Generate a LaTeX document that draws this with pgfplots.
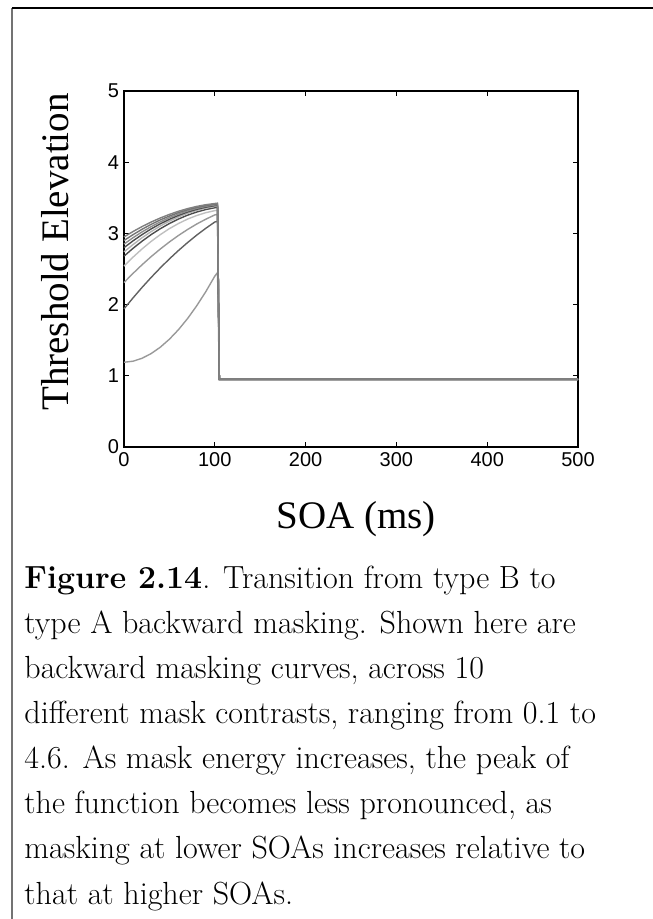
\documentclass[border=0pt]{standalone}
\usepackage{fontspec}
\usepackage{pgfplots}
\usepackage{pgfplotstable}
\pgfplotsset{compat=1.18}
\newfontfamily\labelfont{Liberation Serif}
\newfontfamily\tickfont{Liberation Sans}

% threshold elevation vs SOA for the different mask contrasts
\pgfplotstableread{
x    c1    c2    c3    c4    c5    c6    c7    c8    c9    c10
0    2.950 2.900 2.850 2.800 2.740 2.680 2.540 2.310 1.940 1.190
10   3.027 2.983 2.940 2.896 2.844 2.791 2.667 2.439 2.095 1.205
20   3.097 3.059 3.022 2.984 2.940 2.892 2.783 2.561 2.243 1.247
30   3.160 3.128 3.096 3.064 3.026 2.984 2.889 2.675 2.383 1.313
40   3.217 3.190 3.162 3.135 3.104 3.066 2.983 2.781 2.516 1.402
50   3.267 3.244 3.221 3.198 3.172 3.139 3.067 2.880 2.642 1.514
60   3.311 3.292 3.272 3.253 3.232 3.202 3.139 2.971 2.760 1.648
70   3.348 3.332 3.316 3.300 3.282 3.256 3.201 3.055 2.871 1.804
80   3.379 3.365 3.352 3.338 3.324 3.300 3.251 3.131 2.975 1.982
90   3.403 3.391 3.380 3.368 3.356 3.335 3.291 3.199 3.071 2.180
100  3.420 3.410 3.400 3.390 3.380 3.360 3.320 3.260 3.160 2.400
103  3.425 3.415 3.405 3.395 3.385 3.366 3.327 3.268 3.171 2.450
105  0.950 0.950 0.950 0.950 0.950 0.950 0.950 0.950 0.950 0.950
500  0.950 0.950 0.950 0.950 0.950 0.950 0.950 0.950 0.950 0.950
}\masking

\begin{document}
\begin{tikzpicture}
\useasboundingbox (0,0) rectangle (326pt,-459.5pt);
% page frame
\draw[black!55, line width=0.6pt] (6pt,-4pt) -- (6pt,-460pt);
\draw[black, line width=0.6pt] (6pt,-4pt) -- (327pt,-4pt);

\begin{axis}[
  at={(62pt,-223.5pt)}, anchor=south west,
  width=227pt, height=178pt, scale only axis,
  xmin=0, xmax=500, ymin=0, ymax=5,
  xtick={0,100,...,500}, ytick={0,1,...,5},
  tick align=inside, major tick length=2.6pt,
  axis line style={line width=0.8pt},
  every tick/.style={black, line width=0.6pt},
  tick label style={font=\tickfont\fontsize{10}{12}\selectfont},
  /pgf/number format/assume math mode=true,
  xticklabel style={yshift=1pt},
  yticklabel style={xshift=1pt},
  clip=false,
]
\addplot[black!40, line width=0.7pt] table[x=x, y=c10] {\masking};
\addplot[black!62, line width=0.7pt] table[x=x, y=c9] {\masking};
\addplot[black!40, line width=0.7pt] table[x=x, y=c8] {\masking};
\addplot[black!25, line width=0.7pt] table[x=x, y=c7] {\masking};
\addplot[black!70, line width=0.7pt] table[x=x, y=c6] {\masking};
\addplot[black!30, line width=0.7pt] table[x=x, y=c5] {\masking};
\addplot[black!70, line width=0.7pt] table[x=x, y=c4] {\masking};
\addplot[black!45, line width=0.7pt] table[x=x, y=c3] {\masking};
\addplot[black!55, line width=0.7pt] table[x=x, y=c2] {\masking};
\addplot[black!50, line width=0.7pt] table[x=x, y=c1] {\masking};
\end{axis}

% axis titles
\node[anchor=base, font=\labelfont\fontsize{19.5}{19.5}\selectfont]
  at (178pt,-264pt) {SOA (ms)};
\node[anchor=base, rotate=90, font=\labelfont\fontsize{19.5}{19.5}\selectfont]
  at (34pt,-126pt) {Threshold Elevation};

% caption
\begin{scope}[every node/.style={anchor=base west, inner sep=0pt,
    font=\fontsize{16}{19}\selectfont}]
\node at (12pt,-294.00pt) {\textbf{Figure 2.14}. Transition from type B to};
\node at (12pt,-316.57pt) {type A backward masking. Shown here are};
\node at (12pt,-339.14pt) {backward masking curves, across 10};
\node at (12pt,-361.71pt) {different mask contrasts, ranging from 0.1 to};
\node at (12pt,-384.28pt) {4.6. As mask energy increases, the peak of};
\node at (12pt,-406.85pt) {the function becomes less pronounced, as};
\node at (12pt,-429.42pt) {masking at lower SOAs increases relative to};
\node at (12pt,-452.00pt) {that at higher SOAs.};
\end{scope}
\end{tikzpicture}
\end{document}
